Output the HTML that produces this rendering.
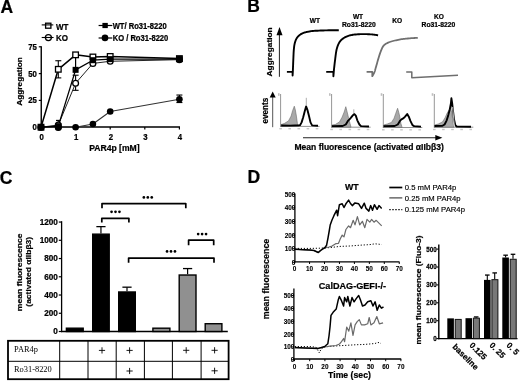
<!DOCTYPE html>
<html><head><meta charset="utf-8"><title>Figure</title>
<style>
html,body{margin:0;padding:0;background:#fff;width:520px;height:381px;overflow:hidden}
svg{display:block;filter:blur(0.35px)}
.sans{font-family:"Liberation Sans",sans-serif}
.serif{font-family:"Liberation Serif",serif}
</style></head>
<body>
<svg width="520" height="381" viewBox="0 0 520 381">
<rect x="0" y="0" width="520" height="381" fill="#fff"/>
<text class="sans" transform="translate(0.6 12.6)" font-size="17.5" font-weight="bold" text-anchor="start" fill="#000" stroke="#000" stroke-width="0.22">A</text>
<rect x="45.6" y="23.2" width="5.3" height="5" fill="#fff" stroke="#000" stroke-width="1.3"/>
<line x1="41.7" y1="24.9" x2="53.3" y2="24.9" stroke="#000" stroke-width="1.1"/>
<text class="sans" transform="translate(56 29.5) scale(1 1.050)" font-size="8" font-weight="bold" text-anchor="start" fill="#000" stroke="#000" stroke-width="0.22">WT</text>
<circle cx="48.4" cy="37.6" r="3" fill="#fff" stroke="#000" stroke-width="1.3"/>
<line x1="41.7" y1="37.5" x2="53.6" y2="37.5" stroke="#000" stroke-width="1.1"/>
<text class="sans" transform="translate(56 41) scale(1 1.050)" font-size="8" font-weight="bold" text-anchor="start" fill="#000" stroke="#000" stroke-width="0.22">KO</text>
<line x1="98.6" y1="25.5" x2="112.3" y2="25.5" stroke="#000" stroke-width="1.2"/>
<rect x="102.4" y="22.9" width="5.4" height="5.2" fill="#000" stroke="none" stroke-width="1"/>
<text class="sans" transform="translate(112.7 28.5) scale(1 1.120)" font-size="7.6" font-weight="bold" text-anchor="start" fill="#000" stroke="#000" stroke-width="0.22">WT/ Ro31-8220</text>
<line x1="98.6" y1="38" x2="112.3" y2="38" stroke="#000" stroke-width="1.2"/>
<circle cx="105" cy="37.9" r="3.3" fill="#000" stroke="none" stroke-width="1"/>
<text class="sans" transform="translate(112.7 40.5) scale(1 1.120)" font-size="7.6" font-weight="bold" text-anchor="start" fill="#000" stroke="#000" stroke-width="0.22">KO / Ro31-8220</text>
<line x1="41.25" y1="46.3" x2="41.25" y2="127.8" stroke="#000" stroke-width="1.4"/>
<line x1="38.8" y1="127.2" x2="41.25" y2="127.2" stroke="#000" stroke-width="1.2"/>
<text class="sans" transform="translate(36.9 130.15) scale(1 1.120)" font-size="7.8" font-weight="bold" text-anchor="end" fill="#000" stroke="#000" stroke-width="0.22">0</text>
<line x1="38.8" y1="100.4" x2="41.25" y2="100.4" stroke="#000" stroke-width="1.2"/>
<text class="sans" transform="translate(36.9 103.35) scale(1 1.120)" font-size="7.8" font-weight="bold" text-anchor="end" fill="#000" stroke="#000" stroke-width="0.22">25</text>
<line x1="38.8" y1="73.6" x2="41.25" y2="73.6" stroke="#000" stroke-width="1.2"/>
<text class="sans" transform="translate(36.9 76.55) scale(1 1.120)" font-size="7.8" font-weight="bold" text-anchor="end" fill="#000" stroke="#000" stroke-width="0.22">50</text>
<line x1="38.8" y1="46.8" x2="41.25" y2="46.8" stroke="#000" stroke-width="1.2"/>
<text class="sans" transform="translate(36.9 49.75) scale(1 1.120)" font-size="7.8" font-weight="bold" text-anchor="end" fill="#000" stroke="#000" stroke-width="0.22">75</text>
<line x1="40.6" y1="127" x2="180" y2="127" stroke="#000" stroke-width="1.4"/>
<line x1="41" y1="127" x2="41" y2="129.5" stroke="#000" stroke-width="1.2"/>
<text class="sans" transform="translate(41.6 139.6) scale(1 1.120)" font-size="7.8" font-weight="bold" text-anchor="middle" fill="#000" stroke="#000" stroke-width="0.22">0</text>
<line x1="75.6" y1="127" x2="75.6" y2="129.5" stroke="#000" stroke-width="1.2"/>
<text class="sans" transform="translate(76.2 139.6) scale(1 1.120)" font-size="7.8" font-weight="bold" text-anchor="middle" fill="#000" stroke="#000" stroke-width="0.22">1</text>
<line x1="110.2" y1="127" x2="110.2" y2="129.5" stroke="#000" stroke-width="1.2"/>
<text class="sans" transform="translate(110.8 139.6) scale(1 1.120)" font-size="7.8" font-weight="bold" text-anchor="middle" fill="#000" stroke="#000" stroke-width="0.22">2</text>
<line x1="144.8" y1="127" x2="144.8" y2="129.5" stroke="#000" stroke-width="1.2"/>
<text class="sans" transform="translate(145.4 139.6) scale(1 1.120)" font-size="7.8" font-weight="bold" text-anchor="middle" fill="#000" stroke="#000" stroke-width="0.22">3</text>
<line x1="179.4" y1="127" x2="179.4" y2="129.5" stroke="#000" stroke-width="1.2"/>
<text class="sans" transform="translate(180 139.6) scale(1 1.120)" font-size="7.8" font-weight="bold" text-anchor="middle" fill="#000" stroke="#000" stroke-width="0.22">4</text>
<text class="sans" transform="translate(114.4 150.9) scale(1 1.080)" font-size="8.6" font-weight="bold" text-anchor="middle" fill="#000" stroke="#000" stroke-width="0.22">PAR4p [mM]</text>
<text class="sans" transform="translate(21.6 81.4) rotate(-90) scale(1 0.900)" font-size="8.25" font-weight="bold" text-anchor="middle" fill="#000" stroke="#000" stroke-width="0.22">Aggregation</text>
<line x1="58.3" y1="77.89" x2="58.3" y2="60.74" stroke="#000" stroke-width="1.1"/>
<line x1="55.3" y1="60.74" x2="61.3" y2="60.74" stroke="#000" stroke-width="1.1"/>
<line x1="55.3" y1="77.89" x2="61.3" y2="77.89" stroke="#000" stroke-width="1.1"/>
<line x1="58.3" y1="125.06" x2="58.3" y2="120.45" stroke="#000" stroke-width="1.1"/>
<line x1="56" y1="120.45" x2="60.6" y2="120.45" stroke="#000" stroke-width="1.2"/>
<line x1="75.6" y1="90.32" x2="75.6" y2="75.21" stroke="#000" stroke-width="1.1"/>
<line x1="72.6" y1="75.21" x2="78.6" y2="75.21" stroke="#000" stroke-width="1.1"/>
<line x1="72.6" y1="90.32" x2="78.6" y2="90.32" stroke="#000" stroke-width="1.1"/>
<line x1="75.6" y1="69.85" x2="75.6" y2="56.45" stroke="#000" stroke-width="1.2"/>
<line x1="179.4" y1="102.54" x2="179.4" y2="95.04" stroke="#000" stroke-width="1.1"/>
<line x1="176.4" y1="95.04" x2="182.4" y2="95.04" stroke="#000" stroke-width="1.1"/>
<line x1="176.4" y1="102.54" x2="182.4" y2="102.54" stroke="#000" stroke-width="1.1"/>
<polyline points="41,127.2 58.3,127.2 75.6,127.2 92.9,123.98 110.2,111.55 179.4,99.33" fill="none" stroke="#333" stroke-width="1.1" stroke-linejoin="round"/>
<polyline points="41,127.2 58.3,125.06 75.6,83.25 92.9,63.42 110.2,61.27 179.4,59.66" fill="none" stroke="#222" stroke-width="1" stroke-linejoin="round"/>
<polyline points="41,127.2 58.3,126.13 75.6,69.85 92.9,60.2 110.2,59.13 179.4,59.13" fill="none" stroke="#000" stroke-width="1.3" stroke-linejoin="round"/>
<polyline points="41,127.2 58.3,69.31 75.6,54.84 92.9,56.98 110.2,56.45 179.4,58.59" fill="none" stroke="#000" stroke-width="1.5" stroke-linejoin="round"/>
<rect x="38.2" y="124.4" width="5.6" height="5.6" fill="#fff" stroke="#000" stroke-width="1.3"/>
<rect x="55.5" y="66.51" width="5.6" height="5.6" fill="#fff" stroke="#000" stroke-width="1.3"/>
<rect x="72.8" y="52.04" width="5.6" height="5.6" fill="#fff" stroke="#000" stroke-width="1.3"/>
<rect x="90.1" y="54.18" width="5.6" height="5.6" fill="#fff" stroke="#000" stroke-width="1.3"/>
<rect x="107.4" y="53.65" width="5.6" height="5.6" fill="#fff" stroke="#000" stroke-width="1.3"/>
<rect x="176.6" y="55.79" width="5.6" height="5.6" fill="#fff" stroke="#000" stroke-width="1.3"/>
<circle cx="41" cy="127.2" r="2.9" fill="#fff" stroke="#000" stroke-width="1.3"/>
<circle cx="58.3" cy="125.06" r="2.9" fill="#fff" stroke="#000" stroke-width="1.3"/>
<circle cx="75.6" cy="83.25" r="2.9" fill="#fff" stroke="#000" stroke-width="1.3"/>
<circle cx="92.9" cy="63.42" r="2.9" fill="#fff" stroke="#000" stroke-width="1.3"/>
<circle cx="110.2" cy="61.27" r="2.9" fill="#fff" stroke="#000" stroke-width="1.3"/>
<circle cx="179.4" cy="59.66" r="2.9" fill="#fff" stroke="#000" stroke-width="1.3"/>
<circle cx="41" cy="127.2" r="3.3" fill="#000" stroke="none" stroke-width="1"/>
<circle cx="58.3" cy="127.2" r="3.3" fill="#000" stroke="none" stroke-width="1"/>
<circle cx="75.6" cy="127.2" r="3.3" fill="#000" stroke="none" stroke-width="1"/>
<circle cx="92.9" cy="123.98" r="3.3" fill="#000" stroke="none" stroke-width="1"/>
<circle cx="110.2" cy="111.55" r="3.3" fill="#000" stroke="none" stroke-width="1"/>
<circle cx="179.4" cy="99.33" r="3.3" fill="#000" stroke="none" stroke-width="1"/>
<rect x="38" y="124.2" width="6" height="6" fill="#000" stroke="none" stroke-width="1"/>
<rect x="55.3" y="123.13" width="6" height="6" fill="#000" stroke="none" stroke-width="1"/>
<rect x="72.6" y="66.85" width="6" height="6" fill="#000" stroke="none" stroke-width="1"/>
<rect x="89.9" y="57.2" width="6" height="6" fill="#000" stroke="none" stroke-width="1"/>
<rect x="107.2" y="56.13" width="6" height="6" fill="#000" stroke="none" stroke-width="1"/>
<rect x="176.4" y="56.13" width="6" height="6" fill="#000" stroke="none" stroke-width="1"/>
<circle cx="58.3" cy="127.52" r="3.5" fill="#000" stroke="none" stroke-width="1"/>
<text class="sans" transform="translate(247.2 12.4)" font-size="17.5" font-weight="bold" text-anchor="start" fill="#000" stroke="#000" stroke-width="0.22">B</text>
<text class="sans" transform="translate(271.7 51.9) rotate(-90) scale(1 0.880)" font-size="8.35" font-weight="bold" text-anchor="middle" fill="#000" stroke="#000" stroke-width="0.22">Aggregation</text>
<line x1="279.4" y1="34" x2="279.4" y2="76.8" stroke="#222" stroke-width="1"/>
<polygon points="276.5,35.2 282.5,35.2 279.5,27.1" fill="#000" stroke="none" stroke-width="1"/>
<text class="sans" transform="translate(314.9 23) scale(1 1.120)" font-size="6.6" font-weight="bold" text-anchor="middle" fill="#000" stroke="#000" stroke-width="0.22">WT</text>
<text class="sans" transform="translate(358 19.4) scale(1 1.120)" font-size="6.6" font-weight="bold" text-anchor="middle" fill="#000" stroke="#000" stroke-width="0.22">WT</text>
<text class="sans" transform="translate(358.8 27.4) scale(1 1.100)" font-size="6.75" font-weight="bold" text-anchor="middle" fill="#000" stroke="#000" stroke-width="0.22">Ro31-8220</text>
<text class="sans" transform="translate(397.2 23.4) scale(1 1.120)" font-size="6.6" font-weight="bold" text-anchor="middle" fill="#000" stroke="#000" stroke-width="0.22">KO</text>
<text class="sans" transform="translate(438.9 19.4) scale(1 1.120)" font-size="6.6" font-weight="bold" text-anchor="middle" fill="#000" stroke="#000" stroke-width="0.22">KO</text>
<text class="sans" transform="translate(438.4 27.4) scale(1 1.100)" font-size="6.75" font-weight="bold" text-anchor="middle" fill="#000" stroke="#000" stroke-width="0.22">Ro31-8220</text>
<polyline points="286.9,71.9 292.6,71.9 292.6,75.5 292.62,75.11 292.65,74.62 292.69,74.04 292.73,73.38 292.77,72.63 292.81,71.82 292.86,70.94 292.9,70 292.94,68.97 292.99,67.82 293.04,66.58 293.09,65.28 293.14,63.95 293.19,62.61 293.24,61.28 293.3,60 293.35,58.73 293.41,57.42 293.46,56.1 293.52,54.78 293.58,53.49 293.64,52.25 293.72,51.08 293.8,50 293.89,49.01 293.98,48.09 294.07,47.24 294.17,46.43 294.28,45.67 294.4,44.93 294.54,44.21 294.7,43.5 294.88,42.8 295.07,42.12 295.27,41.47 295.49,40.84 295.72,40.24 295.97,39.67 296.23,39.12 296.5,38.6 296.79,38.11 297.09,37.66 297.4,37.24 297.72,36.84 298.07,36.46 298.43,36.1 298.8,35.75 299.2,35.4 299.61,35.06 300.04,34.74 300.49,34.43 300.96,34.14 301.44,33.86 301.94,33.59 302.46,33.34 303,33.1 303.56,32.88 304.14,32.67 304.74,32.48 305.36,32.31 306,32.14 306.65,31.99 307.32,31.84 308,31.7 308.67,31.57 309.31,31.45 309.96,31.34 310.62,31.24 311.34,31.15 312.12,31.06 313,30.98 314,30.9 315.12,30.82 316.33,30.75 317.64,30.68 319.01,30.61 320.45,30.55 321.94,30.5 323.46,30.45 325,30.4 326.69,30.36 328.58,30.32 330.58,30.29 332.59,30.27 334.51,30.25 336.25,30.23 337.72,30.21 338.8,30.2" fill="none" stroke="#000" stroke-width="1.9" stroke-linejoin="round"/>
<polyline points="326.2,71.9 333.4,71.9 333.4,76.2 333.45,75.61 333.51,74.83 333.59,73.91 333.68,72.88 333.77,71.77 333.87,70.61 333.98,69.45 334.1,68.3 334.23,67.12 334.37,65.86 334.52,64.55 334.68,63.21 334.84,61.87 335,60.57 335.16,59.34 335.3,58.2 335.43,57.15 335.55,56.15 335.67,55.2 335.79,54.29 335.9,53.42 336.03,52.58 336.16,51.78 336.3,51 336.45,50.26 336.6,49.56 336.76,48.9 336.93,48.27 337.1,47.66 337.28,47.07 337.48,46.48 337.7,45.9 337.93,45.31 338.18,44.74 338.44,44.17 338.71,43.61 338.99,43.07 339.28,42.56 339.59,42.07 339.9,41.6 340.22,41.17 340.54,40.76 340.87,40.39 341.22,40.03 341.58,39.69 341.96,39.36 342.37,39.03 342.8,38.7 343.26,38.37 343.74,38.04 344.24,37.72 344.77,37.41 345.32,37.11 345.89,36.82 346.48,36.55 347.1,36.3 347.73,36.06 348.38,35.84 349.04,35.64 349.73,35.44 350.45,35.26 351.22,35.1 352.03,34.94 352.9,34.8 353.83,34.67 354.82,34.55 355.85,34.43 356.93,34.34 358.04,34.25 359.18,34.19 360.33,34.13 361.5,34.1 362.72,34.09 364,34.09 365.34,34.11 366.68,34.15 368.01,34.2 369.29,34.26 370.5,34.33 371.6,34.4 372.63,34.49 373.63,34.6 374.59,34.73 375.48,34.87 376.3,35 377.02,35.12 377.62,35.23 378.1,35.3" fill="none" stroke="#000" stroke-width="1.9" stroke-linejoin="round"/>
<polyline points="366.6,71.9 372.3,71.9 372.3,76.2 372.47,75.89 372.71,75.48 372.99,75 373.29,74.46 373.61,73.88 373.93,73.26 374.23,72.63 374.5,72 374.72,71.39 374.92,70.8 375.1,70.2 375.27,69.56 375.46,68.87 375.67,68.1 375.91,67.21 376.2,66.2 376.54,65 376.93,63.63 377.35,62.12 377.79,60.54 378.25,58.95 378.71,57.39 379.16,55.92 379.6,54.6 380.02,53.39 380.44,52.22 380.85,51.1 381.26,50.03 381.68,49.03 382.11,48.11 382.55,47.26 383,46.5 383.46,45.85 383.91,45.31 384.37,44.86 384.84,44.48 385.33,44.15 385.85,43.84 386.4,43.53 387,43.2 387.64,42.87 388.3,42.56 388.99,42.28 389.72,42.01 390.48,41.75 391.28,41.5 392.12,41.25 393,41 393.94,40.75 394.95,40.5 396,40.26 397.09,40.02 398.2,39.79 399.32,39.58 400.42,39.38 401.5,39.2 402.57,39.04 403.64,38.9 404.72,38.78 405.79,38.67 406.86,38.57 407.92,38.48 408.97,38.39 410,38.3 411.06,38.21 412.18,38.14 413.32,38.06 414.43,37.99 415.48,37.93 416.41,37.88 417.2,37.84 417.8,37.8" fill="none" stroke="#707070" stroke-width="1.8" stroke-linejoin="round"/>
<polyline points="406.2,71.9 411.8,71.9 411.8,77.7 458,75.3" fill="none" stroke="#6e6e6e" stroke-width="1.5" stroke-linejoin="round"/>
<line x1="280.6" y1="94" x2="280.6" y2="126.8" stroke="#8a8a8a" stroke-width="0.9"/>
<line x1="280.2" y1="126.4" x2="319.6" y2="126.4" stroke="#777" stroke-width="0.8"/>
<rect x="279.3" y="128" width="2.6" height="1.4" fill="#c8c8c8"/>
<rect x="288.4" y="128" width="2.6" height="1.4" fill="#c8c8c8"/>
<rect x="297.5" y="128" width="2.6" height="1.4" fill="#c8c8c8"/>
<rect x="306.6" y="128" width="2.6" height="1.4" fill="#c8c8c8"/>
<rect x="315.7" y="128" width="2.6" height="1.4" fill="#c8c8c8"/>
<rect x="278" y="93.2" width="1.6" height="2.6" fill="#c0c0c0"/>
<line x1="331.6" y1="94" x2="331.6" y2="127.6" stroke="#8a8a8a" stroke-width="0.9"/>
<line x1="331.2" y1="127.2" x2="370.6" y2="127.2" stroke="#777" stroke-width="0.8"/>
<rect x="330.3" y="128.8" width="2.6" height="1.4" fill="#c8c8c8"/>
<rect x="339.4" y="128.8" width="2.6" height="1.4" fill="#c8c8c8"/>
<rect x="348.5" y="128.8" width="2.6" height="1.4" fill="#c8c8c8"/>
<rect x="357.6" y="128.8" width="2.6" height="1.4" fill="#c8c8c8"/>
<rect x="366.7" y="128.8" width="2.6" height="1.4" fill="#c8c8c8"/>
<rect x="329" y="93.2" width="1.6" height="2.6" fill="#c0c0c0"/>
<line x1="383.3" y1="94" x2="383.3" y2="127.9" stroke="#8a8a8a" stroke-width="0.9"/>
<line x1="382.9" y1="127.5" x2="422.3" y2="127.5" stroke="#777" stroke-width="0.8"/>
<rect x="382" y="129.1" width="2.6" height="1.4" fill="#c8c8c8"/>
<rect x="391.1" y="129.1" width="2.6" height="1.4" fill="#c8c8c8"/>
<rect x="400.2" y="129.1" width="2.6" height="1.4" fill="#c8c8c8"/>
<rect x="409.3" y="129.1" width="2.6" height="1.4" fill="#c8c8c8"/>
<rect x="418.4" y="129.1" width="2.6" height="1.4" fill="#c8c8c8"/>
<rect x="380.7" y="93.2" width="1.6" height="2.6" fill="#c0c0c0"/>
<line x1="434.3" y1="94" x2="434.3" y2="127.6" stroke="#8a8a8a" stroke-width="0.9"/>
<line x1="433.9" y1="127.2" x2="473.3" y2="127.2" stroke="#777" stroke-width="0.8"/>
<rect x="433" y="128.8" width="2.6" height="1.4" fill="#c8c8c8"/>
<rect x="442.1" y="128.8" width="2.6" height="1.4" fill="#c8c8c8"/>
<rect x="451.2" y="128.8" width="2.6" height="1.4" fill="#c8c8c8"/>
<rect x="460.3" y="128.8" width="2.6" height="1.4" fill="#c8c8c8"/>
<rect x="469.4" y="128.8" width="2.6" height="1.4" fill="#c8c8c8"/>
<rect x="431.7" y="93.2" width="1.6" height="2.6" fill="#c0c0c0"/>
<polygon points="281,126.4 281,124.6 284.3,123.5 288.5,120.9 291.1,116.1 292.7,110.4 294.3,106.2 295.3,109.8 296.4,116.1 297.4,123.5 298.5,126 298.5,126.4" fill="#a9a9a9" stroke="#6a6a6a" stroke-width="0.6"/>
<polyline points="281.2,125.5 290,125.6 300,125.3 301.6,122.4 303.2,117.2 304.8,110.9 306.1,106.4 307.4,109.8 309,116.1 310.5,122.4 312.1,125.4 318,125.8" fill="none" stroke="#000" stroke-width="1.9" stroke-linejoin="round"/>
<line x1="306.3" y1="97.8" x2="306.3" y2="106" stroke="#9a9a9a" stroke-width="0.8"/>
<polygon points="332,127.2 332,125 335.3,124.5 339.5,121.9 342.1,117.2 344.2,112 345.8,106.7 347.4,113 348.4,117.2 350,123.5 351,127 351,127.2" fill="#a9a9a9" stroke="#6a6a6a" stroke-width="0.6"/>
<polyline points="332,126.1 342.6,126 345.8,124.5 347.9,120.9 349.5,119.3 351,117.7 352.6,115.6 354.2,114 355.8,115.6 357.3,120.3 359.4,124.5 361,126.1 369,126.5" fill="none" stroke="#000" stroke-width="1.9" stroke-linejoin="round"/>
<line x1="353.8" y1="109.3" x2="353.8" y2="114" stroke="#9a9a9a" stroke-width="0.8"/>
<polygon points="383.6,127.5 383.6,125 387.3,124 391.5,122.4 394.1,118.2 395.7,113.5 397.6,108.3 398.8,112.5 399.9,117.2 400.9,123.5 402,127 402,127.5" fill="#a9a9a9" stroke="#6a6a6a" stroke-width="0.6"/>
<polyline points="383.6,126.1 394.6,126 397.8,124.5 399.9,120.9 401.5,119.3 403.6,118.2 405.1,116.7 407.2,114 408.8,116.7 410.4,120.9 412.5,125.1 414.1,126.1 421,126.6" fill="none" stroke="#000" stroke-width="1.9" stroke-linejoin="round"/>
<polygon points="434.6,127.2 434.6,125 438.3,124 442.5,121.9 445.1,117.7 447.2,113 448.8,110.4 450.4,107.7 451.4,110.9 452.5,118.2 453.5,125.6 454,127 454,127.2" fill="#a9a9a9" stroke="#6a6a6a" stroke-width="0.6"/>
<polyline points="434.6,126 442.5,125.8 444.6,124.5 446.7,120.3 448.3,115.1 449.8,109.3 450.9,103.5 451.4,98.3 452.2,103.5 453,110.9 454,119.3 455.3,125.1 456.7,126.5 471,126.7" fill="none" stroke="#000" stroke-width="1.9" stroke-linejoin="round"/>
<line x1="452.6" y1="107" x2="454.4" y2="126.2" stroke="#fff" stroke-width="0.7"/>
<text class="sans" transform="translate(267.8 110.6) rotate(-90)" font-size="8.2" font-weight="bold" text-anchor="middle" fill="#000" stroke="#000" stroke-width="0.22">events</text>
<line x1="272.7" y1="97" x2="272.7" y2="127.2" stroke="#555" stroke-width="1"/>
<polygon points="269.7,97.6 275.7,97.6 272.7,91.4" fill="#000" stroke="none" stroke-width="1"/>
<line x1="303" y1="137.7" x2="436" y2="137.7" stroke="#222" stroke-width="1.1"/>
<polygon points="435.3,134.9 435.3,140.5 442.4,137.7" fill="#000" stroke="none" stroke-width="1"/>
<text class="sans" transform="translate(294.5 149.8) scale(1 1.080)" font-size="8.55" font-weight="bold" text-anchor="start" fill="#000" stroke="#000" stroke-width="0.22">Mean fluorescence (activated αIIbβ3)</text>
<text class="sans" transform="translate(-0.3 183.8)" font-size="17.5" font-weight="bold" text-anchor="start" fill="#000" stroke="#000" stroke-width="0.22">C</text>
<line x1="61.6" y1="221.2" x2="61.6" y2="332.1" stroke="#000" stroke-width="1.3"/>
<line x1="58.8" y1="331.5" x2="61.6" y2="331.5" stroke="#000" stroke-width="1.2"/>
<text class="sans" transform="translate(57.9 334.35)" font-size="8.2" font-weight="bold" text-anchor="end" fill="#000" stroke="#000" stroke-width="0.22">0</text>
<line x1="58.8" y1="313.26" x2="61.6" y2="313.26" stroke="#000" stroke-width="1.2"/>
<text class="sans" transform="translate(57.9 316.11)" font-size="8.2" font-weight="bold" text-anchor="end" fill="#000" stroke="#000" stroke-width="0.22">200</text>
<line x1="58.8" y1="295.02" x2="61.6" y2="295.02" stroke="#000" stroke-width="1.2"/>
<text class="sans" transform="translate(57.9 297.87)" font-size="8.2" font-weight="bold" text-anchor="end" fill="#000" stroke="#000" stroke-width="0.22">400</text>
<line x1="58.8" y1="276.78" x2="61.6" y2="276.78" stroke="#000" stroke-width="1.2"/>
<text class="sans" transform="translate(57.9 279.63)" font-size="8.2" font-weight="bold" text-anchor="end" fill="#000" stroke="#000" stroke-width="0.22">600</text>
<line x1="58.8" y1="258.54" x2="61.6" y2="258.54" stroke="#000" stroke-width="1.2"/>
<text class="sans" transform="translate(57.9 261.39)" font-size="8.2" font-weight="bold" text-anchor="end" fill="#000" stroke="#000" stroke-width="0.22">800</text>
<line x1="58.8" y1="240.3" x2="61.6" y2="240.3" stroke="#000" stroke-width="1.2"/>
<text class="sans" transform="translate(57.9 243.15)" font-size="8.2" font-weight="bold" text-anchor="end" fill="#000" stroke="#000" stroke-width="0.22">1000</text>
<line x1="58.8" y1="222.06" x2="61.6" y2="222.06" stroke="#000" stroke-width="1.2"/>
<text class="sans" transform="translate(57.9 224.91)" font-size="8.2" font-weight="bold" text-anchor="end" fill="#000" stroke="#000" stroke-width="0.22">1200</text>
<line x1="61" y1="331.5" x2="227.8" y2="331.5" stroke="#000" stroke-width="1.3"/>
<text class="sans" transform="translate(21.9 272.3) rotate(-90) scale(1 0.890)" font-size="8.6" font-weight="bold" text-anchor="middle" fill="#000" stroke="#000" stroke-width="0.22">mean fluorescence</text>
<text class="sans" transform="translate(31.2 271.8) rotate(-90) scale(1 0.890)" font-size="8.5" font-weight="bold" text-anchor="middle" fill="#000" stroke="#000" stroke-width="0.22">(activated αIIbβ3)</text>
<rect x="66.4" y="328.19" width="16.8" height="3.31" fill="#000" stroke="#000" stroke-width="1.4"/>
<line x1="100.95" y1="233.46" x2="100.95" y2="226.62" stroke="#000" stroke-width="1.2"/>
<line x1="96.35" y1="226.62" x2="105.55" y2="226.62" stroke="#000" stroke-width="1.3"/>
<rect x="92.7" y="234.16" width="16.5" height="97.34" fill="#000" stroke="#000" stroke-width="1.4"/>
<line x1="127" y1="291.28" x2="127" y2="287.18" stroke="#000" stroke-width="1.2"/>
<line x1="122.4" y1="287.18" x2="131.6" y2="287.18" stroke="#000" stroke-width="1.3"/>
<rect x="118.7" y="291.98" width="16.6" height="39.52" fill="#000" stroke="#000" stroke-width="1.4"/>
<rect x="152.9" y="328.19" width="17" height="3.31" fill="#909090" stroke="#000" stroke-width="1.4"/>
<line x1="187.6" y1="274.32" x2="187.6" y2="268.57" stroke="#000" stroke-width="1.2"/>
<line x1="183" y1="268.57" x2="192.2" y2="268.57" stroke="#000" stroke-width="1.3"/>
<rect x="179.2" y="275.02" width="16.8" height="56.48" fill="#909090" stroke="#000" stroke-width="1.4"/>
<rect x="205.2" y="323.72" width="16.7" height="7.78" fill="#909090" stroke="#000" stroke-width="1.4"/>
<polyline points="101.8,222.6 101.8,218.3 128.9,218.3 128.9,222.6" fill="none" stroke="#000" stroke-width="1.7" stroke-linejoin="round"/>
<circle cx="111.55" cy="211.8" r="1.35" fill="#000" stroke="none" stroke-width="1"/>
<circle cx="115.5" cy="211.8" r="1.35" fill="#000" stroke="none" stroke-width="1"/>
<circle cx="119.45" cy="211.8" r="1.35" fill="#000" stroke="none" stroke-width="1"/>
<polyline points="102,208.3 102,203.6 185.8,203.6 185.8,208.3" fill="none" stroke="#000" stroke-width="1.7" stroke-linejoin="round"/>
<circle cx="143.85" cy="197.4" r="1.35" fill="#000" stroke="none" stroke-width="1"/>
<circle cx="147.8" cy="197.4" r="1.35" fill="#000" stroke="none" stroke-width="1"/>
<circle cx="151.75" cy="197.4" r="1.35" fill="#000" stroke="none" stroke-width="1"/>
<polyline points="188.6,245.3 188.6,240.2 213.7,240.2 213.7,245.3" fill="none" stroke="#000" stroke-width="1.7" stroke-linejoin="round"/>
<circle cx="198.15" cy="234.1" r="1.35" fill="#000" stroke="none" stroke-width="1"/>
<circle cx="202.1" cy="234.1" r="1.35" fill="#000" stroke="none" stroke-width="1"/>
<circle cx="206.05" cy="234.1" r="1.35" fill="#000" stroke="none" stroke-width="1"/>
<polyline points="128.6,262.8 128.6,258.1 214,258.1 214,262.8" fill="none" stroke="#000" stroke-width="1.7" stroke-linejoin="round"/>
<circle cx="167.05" cy="251.4" r="1.35" fill="#000" stroke="none" stroke-width="1"/>
<circle cx="171" cy="251.4" r="1.35" fill="#000" stroke="none" stroke-width="1"/>
<circle cx="174.95" cy="251.4" r="1.35" fill="#000" stroke="none" stroke-width="1"/>
<rect x="8" y="340.8" width="220.6" height="38.4" fill="none" stroke="#000" stroke-width="1.8"/>
<line x1="8" y1="361.3" x2="228.6" y2="361.3" stroke="#000" stroke-width="1"/>
<line x1="59.7" y1="340.4" x2="59.7" y2="379.2" stroke="#000" stroke-width="1"/>
<line x1="88" y1="340.4" x2="88" y2="379.2" stroke="#000" stroke-width="1"/>
<line x1="116.2" y1="340.4" x2="116.2" y2="379.2" stroke="#000" stroke-width="1"/>
<line x1="144.4" y1="340.4" x2="144.4" y2="379.2" stroke="#000" stroke-width="1"/>
<line x1="172.4" y1="340.4" x2="172.4" y2="379.2" stroke="#000" stroke-width="1"/>
<line x1="201.1" y1="340.4" x2="201.1" y2="379.2" stroke="#000" stroke-width="1"/>
<text class="serif" transform="translate(14 351.6)" font-size="8.4" text-anchor="start" fill="#000">PAR4p</text>
<text class="serif" transform="translate(14 372)" font-size="8.4" text-anchor="start" fill="#000">Ro31-8220</text>
<line x1="98.9" y1="350.4" x2="105.1" y2="350.4" stroke="#000" stroke-width="0.9"/>
<line x1="102" y1="347.3" x2="102" y2="353.5" stroke="#000" stroke-width="0.9"/>
<line x1="126.5" y1="350.4" x2="132.7" y2="350.4" stroke="#000" stroke-width="0.9"/>
<line x1="129.6" y1="347.3" x2="129.6" y2="353.5" stroke="#000" stroke-width="0.9"/>
<line x1="183.1" y1="350.3" x2="189.3" y2="350.3" stroke="#000" stroke-width="0.9"/>
<line x1="186.2" y1="347.2" x2="186.2" y2="353.4" stroke="#000" stroke-width="0.9"/>
<line x1="211.5" y1="350.3" x2="217.7" y2="350.3" stroke="#000" stroke-width="0.9"/>
<line x1="214.6" y1="347.2" x2="214.6" y2="353.4" stroke="#000" stroke-width="0.9"/>
<line x1="126.5" y1="371" x2="132.7" y2="371" stroke="#000" stroke-width="0.9"/>
<line x1="129.6" y1="367.9" x2="129.6" y2="374.1" stroke="#000" stroke-width="0.9"/>
<line x1="211.5" y1="370.8" x2="217.7" y2="370.8" stroke="#000" stroke-width="0.9"/>
<line x1="214.6" y1="367.7" x2="214.6" y2="373.9" stroke="#000" stroke-width="0.9"/>
<text class="sans" transform="translate(247.6 183.4)" font-size="17.5" font-weight="bold" text-anchor="start" fill="#000" stroke="#000" stroke-width="0.22">D</text>
<line x1="294.9" y1="193.4" x2="294.9" y2="262.4" stroke="#000" stroke-width="1.3"/>
<line x1="292.9" y1="262.3" x2="294.9" y2="262.3" stroke="#000" stroke-width="1"/>
<text class="sans" transform="translate(295.3 264.75) scale(1 1.080)" font-size="6.4" font-weight="bold" text-anchor="end" fill="#000" stroke="#000" stroke-width="0.1">0</text>
<line x1="292.9" y1="248.7" x2="294.9" y2="248.7" stroke="#000" stroke-width="1"/>
<text class="sans" transform="translate(295.3 251.15) scale(1 1.080)" font-size="6.4" font-weight="bold" text-anchor="end" fill="#000" stroke="#000" stroke-width="0.1">100</text>
<line x1="292.9" y1="235.1" x2="294.9" y2="235.1" stroke="#000" stroke-width="1"/>
<text class="sans" transform="translate(295.3 237.55) scale(1 1.080)" font-size="6.4" font-weight="bold" text-anchor="end" fill="#000" stroke="#000" stroke-width="0.1">200</text>
<line x1="292.9" y1="221.5" x2="294.9" y2="221.5" stroke="#000" stroke-width="1"/>
<text class="sans" transform="translate(295.3 223.95) scale(1 1.080)" font-size="6.4" font-weight="bold" text-anchor="end" fill="#000" stroke="#000" stroke-width="0.1">300</text>
<line x1="292.9" y1="207.9" x2="294.9" y2="207.9" stroke="#000" stroke-width="1"/>
<text class="sans" transform="translate(295.3 210.35) scale(1 1.080)" font-size="6.4" font-weight="bold" text-anchor="end" fill="#000" stroke="#000" stroke-width="0.1">400</text>
<line x1="292.9" y1="194.3" x2="294.9" y2="194.3" stroke="#000" stroke-width="1"/>
<text class="sans" transform="translate(295.3 196.75) scale(1 1.080)" font-size="6.4" font-weight="bold" text-anchor="end" fill="#000" stroke="#000" stroke-width="0.1">500</text>
<line x1="294.3" y1="261.8" x2="399.4" y2="261.8" stroke="#000" stroke-width="1.3"/>
<line x1="294.6" y1="261.8" x2="294.6" y2="264" stroke="#000" stroke-width="1"/>
<text class="sans" transform="translate(294.6 271.4) scale(1 1.100)" font-size="6.4" font-weight="bold" text-anchor="middle" fill="#000" stroke="#000" stroke-width="0.1">0</text>
<line x1="309.55" y1="261.8" x2="309.55" y2="264" stroke="#000" stroke-width="1"/>
<text class="sans" transform="translate(309.55 271.4) scale(1 1.100)" font-size="6.4" font-weight="bold" text-anchor="middle" fill="#000" stroke="#000" stroke-width="0.1">10</text>
<line x1="324.5" y1="261.8" x2="324.5" y2="264" stroke="#000" stroke-width="1"/>
<text class="sans" transform="translate(324.5 271.4) scale(1 1.100)" font-size="6.4" font-weight="bold" text-anchor="middle" fill="#000" stroke="#000" stroke-width="0.1">20</text>
<line x1="339.45" y1="261.8" x2="339.45" y2="264" stroke="#000" stroke-width="1"/>
<text class="sans" transform="translate(339.45 271.4) scale(1 1.100)" font-size="6.4" font-weight="bold" text-anchor="middle" fill="#000" stroke="#000" stroke-width="0.1">30</text>
<line x1="354.4" y1="261.8" x2="354.4" y2="264" stroke="#000" stroke-width="1"/>
<text class="sans" transform="translate(354.4 271.4) scale(1 1.100)" font-size="6.4" font-weight="bold" text-anchor="middle" fill="#000" stroke="#000" stroke-width="0.1">40</text>
<line x1="369.35" y1="261.8" x2="369.35" y2="264" stroke="#000" stroke-width="1"/>
<text class="sans" transform="translate(369.35 271.4) scale(1 1.100)" font-size="6.4" font-weight="bold" text-anchor="middle" fill="#000" stroke="#000" stroke-width="0.1">50</text>
<line x1="384.3" y1="261.8" x2="384.3" y2="264" stroke="#000" stroke-width="1"/>
<text class="sans" transform="translate(384.3 271.4) scale(1 1.100)" font-size="6.4" font-weight="bold" text-anchor="middle" fill="#000" stroke="#000" stroke-width="0.1">60</text>
<line x1="399.25" y1="261.8" x2="399.25" y2="264" stroke="#000" stroke-width="1"/>
<text class="sans" transform="translate(399.25 271.4) scale(1 1.100)" font-size="6.4" font-weight="bold" text-anchor="middle" fill="#000" stroke="#000" stroke-width="0.1">70</text>
<polyline points="294.8,248.4 310,248.4 320,248.2 330,247.6 340,246.4 350,246 360,245.2 370,244.6 375,243.8 381.7,244.5" fill="none" stroke="#000" stroke-width="1" stroke-linejoin="round" stroke-dasharray="1.2,1.8"/>
<polyline points="294.8,249.2 305,249.8 314,250.5 318.3,252.5 322.9,248.8 326.6,247.5 329,247 332,246.1 335.7,243.7 338.5,243.3 340.3,238.7 342.2,235.1 344,236.9 345.9,229.5 348.6,225.9 350.5,227.7 353.2,220.3 355,224.9 357.4,216.7 359.7,224.9 362.4,221.3 364.8,227.7 367,219.4 369.8,222.2 371.6,219.4 374,222.2 376.2,220.3 381.7,225.9" fill="none" stroke="#6a6a6a" stroke-width="1.2" stroke-linejoin="round"/>
<polyline points="294.8,249.2 300,249.6 305,249.8 310,250 314,250.5 318.3,252.5 320.5,250.5 322.9,248.8 325,247.5 326.6,245.2 328,238 329.3,230.5 330.2,225 332,220 333.9,215.7 336.7,210.2 337.6,215.7 339.4,204.7 342.2,203.8 344,207.5 345.9,203.8 348.6,200.1 350.5,203.5 352.3,205.6 355,202.9 358.7,203.8 361.5,208.4 364.3,203.2 366.1,208.4 368.9,211.1 370.7,205.6 372.5,210.2 374.4,204.7 377.1,209.3 379,205.6 381.7,208.4" fill="none" stroke="#000" stroke-width="1.5" stroke-linejoin="round"/>
<text class="sans" transform="translate(351.9 189.9)" font-size="8.8" font-weight="bold" text-anchor="middle" fill="#000" stroke="#000" stroke-width="0.22">WT</text>
<line x1="293.9" y1="288.4" x2="293.9" y2="359.6" stroke="#000" stroke-width="1.3"/>
<line x1="291.9" y1="359.8" x2="293.9" y2="359.8" stroke="#000" stroke-width="1"/>
<text class="sans" transform="translate(294.3 362.25) scale(1 1.080)" font-size="6.4" font-weight="bold" text-anchor="end" fill="#000" stroke="#000" stroke-width="0.1">0</text>
<line x1="291.9" y1="346.95" x2="293.9" y2="346.95" stroke="#000" stroke-width="1"/>
<text class="sans" transform="translate(294.3 349.4) scale(1 1.080)" font-size="6.4" font-weight="bold" text-anchor="end" fill="#000" stroke="#000" stroke-width="0.1">100</text>
<line x1="291.9" y1="334.1" x2="293.9" y2="334.1" stroke="#000" stroke-width="1"/>
<text class="sans" transform="translate(294.3 336.55) scale(1 1.080)" font-size="6.4" font-weight="bold" text-anchor="end" fill="#000" stroke="#000" stroke-width="0.1">200</text>
<line x1="291.9" y1="321.25" x2="293.9" y2="321.25" stroke="#000" stroke-width="1"/>
<text class="sans" transform="translate(294.3 323.7) scale(1 1.080)" font-size="6.4" font-weight="bold" text-anchor="end" fill="#000" stroke="#000" stroke-width="0.1">300</text>
<line x1="291.9" y1="308.4" x2="293.9" y2="308.4" stroke="#000" stroke-width="1"/>
<text class="sans" transform="translate(294.3 310.85) scale(1 1.080)" font-size="6.4" font-weight="bold" text-anchor="end" fill="#000" stroke="#000" stroke-width="0.1">400</text>
<line x1="291.9" y1="295.55" x2="293.9" y2="295.55" stroke="#000" stroke-width="1"/>
<text class="sans" transform="translate(294.3 298) scale(1 1.080)" font-size="6.4" font-weight="bold" text-anchor="end" fill="#000" stroke="#000" stroke-width="0.1">500</text>
<line x1="293.3" y1="359" x2="401.2" y2="359" stroke="#000" stroke-width="1.3"/>
<line x1="294.5" y1="359" x2="294.5" y2="361.2" stroke="#000" stroke-width="1"/>
<text class="sans" transform="translate(294.5 368.6) scale(1 1.100)" font-size="6.4" font-weight="bold" text-anchor="middle" fill="#000" stroke="#000" stroke-width="0.1">0</text>
<line x1="309.7" y1="359" x2="309.7" y2="361.2" stroke="#000" stroke-width="1"/>
<text class="sans" transform="translate(309.7 368.6) scale(1 1.100)" font-size="6.4" font-weight="bold" text-anchor="middle" fill="#000" stroke="#000" stroke-width="0.1">10</text>
<line x1="324.9" y1="359" x2="324.9" y2="361.2" stroke="#000" stroke-width="1"/>
<text class="sans" transform="translate(324.9 368.6) scale(1 1.100)" font-size="6.4" font-weight="bold" text-anchor="middle" fill="#000" stroke="#000" stroke-width="0.1">20</text>
<line x1="340.1" y1="359" x2="340.1" y2="361.2" stroke="#000" stroke-width="1"/>
<text class="sans" transform="translate(340.1 368.6) scale(1 1.100)" font-size="6.4" font-weight="bold" text-anchor="middle" fill="#000" stroke="#000" stroke-width="0.1">30</text>
<line x1="355.3" y1="359" x2="355.3" y2="361.2" stroke="#000" stroke-width="1"/>
<text class="sans" transform="translate(355.3 368.6) scale(1 1.100)" font-size="6.4" font-weight="bold" text-anchor="middle" fill="#000" stroke="#000" stroke-width="0.1">40</text>
<line x1="370.5" y1="359" x2="370.5" y2="361.2" stroke="#000" stroke-width="1"/>
<text class="sans" transform="translate(370.5 368.6) scale(1 1.100)" font-size="6.4" font-weight="bold" text-anchor="middle" fill="#000" stroke="#000" stroke-width="0.1">50</text>
<line x1="385.7" y1="359" x2="385.7" y2="361.2" stroke="#000" stroke-width="1"/>
<text class="sans" transform="translate(385.7 368.6) scale(1 1.100)" font-size="6.4" font-weight="bold" text-anchor="middle" fill="#000" stroke="#000" stroke-width="0.1">60</text>
<line x1="400.9" y1="359" x2="400.9" y2="361.2" stroke="#000" stroke-width="1"/>
<text class="sans" transform="translate(400.9 368.6) scale(1 1.100)" font-size="6.4" font-weight="bold" text-anchor="middle" fill="#000" stroke="#000" stroke-width="0.1">70</text>
<polyline points="294.8,346.6 310,346.6 316,347.2 319.4,353 321,349 325,346.8 335,346 345,345.4 355,344.8 365,344.4 375,343.5 378,342.4 381,343.5" fill="none" stroke="#000" stroke-width="1" stroke-linejoin="round" stroke-dasharray="1.2,1.8"/>
<polyline points="294.8,347.6 305,348 318.4,348.4 324.7,347 330,346.2 336,345.5 339.5,344 341.5,341.7 343.6,338.5 344.6,341.7 346.7,327 348.8,331.2 350.9,322.8 353,335.4 355.1,324.9 357.2,321.7 359.3,319.6 361.4,324.9 364.6,324.9 367.7,323.8 369.2,317.5 370.9,324.9 374,322.8 376.8,316.5 379.3,323.8 383.1,322.8" fill="none" stroke="#6a6a6a" stroke-width="1.2" stroke-linejoin="round"/>
<polyline points="294.8,347.6 305,348 312,348.2 318.4,348.4 324.7,346.5 327.8,343.8 329,336 330,327 331,315.4 333.1,312.3 336.2,309.1 338.3,299.7 339.4,296.5 341.5,300.7 343.6,306 344.6,297.6 346.7,301.8 347.8,296.5 349.9,306 352,297.6 354.1,301.8 356.2,298.6 358.7,295.5 360.4,299.7 362.5,306 365,305 367.7,301.8 370.9,300.7 373,306 375.1,301.8 377.2,310.2 379.3,305 381.4,308.1 383.5,307" fill="none" stroke="#000" stroke-width="1.5" stroke-linejoin="round"/>
<text class="sans" transform="translate(352.4 288.6)" font-size="9.1" font-weight="bold" text-anchor="middle" fill="#000" stroke="#000" stroke-width="0.22">CalDAG-GEFI-/-</text>
<text class="sans" transform="translate(269.1 279) rotate(-90) scale(1 0.950)" font-size="8.9" font-weight="bold" text-anchor="middle" fill="#000" stroke="#000" stroke-width="0.22">mean fluorescence</text>
<text class="sans" transform="translate(349.5 378.3) scale(1 1.050)" font-size="8.7" font-weight="bold" text-anchor="middle" fill="#000" stroke="#000" stroke-width="0.22">Time (sec)</text>
<line x1="389.3" y1="187.5" x2="402.3" y2="187.5" stroke="#000" stroke-width="1.7"/>
<line x1="389.3" y1="197.9" x2="402.3" y2="197.9" stroke="#333" stroke-width="1.1"/>
<line x1="389.3" y1="209.6" x2="402.3" y2="209.6" stroke="#000" stroke-width="1.1" stroke-dasharray="1.4,1.6"/>
<text class="sans" transform="translate(404.8 190.4)" font-size="7.7" text-anchor="start" fill="#000" stroke="#000" stroke-width="0.15">0.5 mM PAR4p</text>
<text class="sans" transform="translate(404.8 201.1)" font-size="7.7" text-anchor="start" fill="#000" stroke="#000" stroke-width="0.15">0.25 mM PAR4p</text>
<text class="sans" transform="translate(404.8 212.3)" font-size="7.7" text-anchor="start" fill="#000" stroke="#000" stroke-width="0.15">0.125 mM PAR4p</text>
<line x1="438.8" y1="244.4" x2="438.8" y2="339.2" stroke="#000" stroke-width="1.4"/>
<line x1="436.4" y1="338.6" x2="438.8" y2="338.6" stroke="#000" stroke-width="1.1"/>
<text class="sans" transform="translate(436.6 341.05) scale(1 1.150)" font-size="6.2" font-weight="bold" text-anchor="end" fill="#000" stroke="#000" stroke-width="0.22">0</text>
<line x1="436.4" y1="320.7" x2="438.8" y2="320.7" stroke="#000" stroke-width="1.1"/>
<text class="sans" transform="translate(436.6 323.15) scale(1 1.150)" font-size="6.2" font-weight="bold" text-anchor="end" fill="#000" stroke="#000" stroke-width="0.22">100</text>
<line x1="436.4" y1="302.8" x2="438.8" y2="302.8" stroke="#000" stroke-width="1.1"/>
<text class="sans" transform="translate(436.6 305.25) scale(1 1.150)" font-size="6.2" font-weight="bold" text-anchor="end" fill="#000" stroke="#000" stroke-width="0.22">200</text>
<line x1="436.4" y1="284.9" x2="438.8" y2="284.9" stroke="#000" stroke-width="1.1"/>
<text class="sans" transform="translate(436.6 287.35) scale(1 1.150)" font-size="6.2" font-weight="bold" text-anchor="end" fill="#000" stroke="#000" stroke-width="0.22">300</text>
<line x1="436.4" y1="267" x2="438.8" y2="267" stroke="#000" stroke-width="1.1"/>
<text class="sans" transform="translate(436.6 269.45) scale(1 1.150)" font-size="6.2" font-weight="bold" text-anchor="end" fill="#000" stroke="#000" stroke-width="0.22">400</text>
<line x1="436.4" y1="249.1" x2="438.8" y2="249.1" stroke="#000" stroke-width="1.1"/>
<text class="sans" transform="translate(436.6 251.55) scale(1 1.150)" font-size="6.2" font-weight="bold" text-anchor="end" fill="#000" stroke="#000" stroke-width="0.22">500</text>
<line x1="438.2" y1="338.6" x2="517.5" y2="338.6" stroke="#000" stroke-width="1.4"/>
<text class="sans" transform="translate(421 290) rotate(-90) scale(1 0.950)" font-size="8.4" font-weight="bold" text-anchor="middle" fill="#000" stroke="#000" stroke-width="0.22">mean fluorescence (Fluo-3)</text>
<rect x="447.3" y="318.37" width="6.6" height="20.23" fill="#000" stroke="none" stroke-width="1"/>
<rect x="455.2" y="319.41" width="6" height="19.19" fill="#787878" stroke="#111" stroke-width="1"/>
<line x1="476.2" y1="317.66" x2="476.2" y2="316.94" stroke="#000" stroke-width="1.1"/>
<line x1="473.9" y1="316.94" x2="478.5" y2="316.94" stroke="#000" stroke-width="1.3"/>
<rect x="465.5" y="318.19" width="6.6" height="20.41" fill="#000" stroke="none" stroke-width="1"/>
<rect x="473.4" y="318.16" width="6" height="20.44" fill="#787878" stroke="#111" stroke-width="1"/>
<line x1="487.3" y1="279.89" x2="487.3" y2="275.06" stroke="#000" stroke-width="1.1"/>
<line x1="485" y1="275.06" x2="489.6" y2="275.06" stroke="#000" stroke-width="1.3"/>
<line x1="494.7" y1="279.17" x2="494.7" y2="272.91" stroke="#000" stroke-width="1.1"/>
<line x1="492.4" y1="272.91" x2="497" y2="272.91" stroke="#000" stroke-width="1.3"/>
<rect x="484" y="279.89" width="6.6" height="58.71" fill="#000" stroke="none" stroke-width="1"/>
<rect x="491.9" y="279.67" width="6" height="58.93" fill="#787878" stroke="#111" stroke-width="1"/>
<line x1="505.6" y1="257.51" x2="505.6" y2="255.19" stroke="#000" stroke-width="1.1"/>
<line x1="503.3" y1="255.19" x2="507.9" y2="255.19" stroke="#000" stroke-width="1.3"/>
<line x1="513" y1="258.77" x2="513" y2="254.29" stroke="#000" stroke-width="1.1"/>
<line x1="510.7" y1="254.29" x2="515.3" y2="254.29" stroke="#000" stroke-width="1.3"/>
<rect x="502.3" y="257.51" width="6.6" height="81.09" fill="#000" stroke="none" stroke-width="1"/>
<rect x="510.2" y="259.27" width="6" height="79.33" fill="#787878" stroke="#111" stroke-width="1"/>
<text class="sans" transform="translate(452 347.2) rotate(45)" font-size="8.2" font-weight="bold" text-anchor="start" fill="#000" stroke="#000" stroke-width="0.22">baseline</text>
<text class="sans" transform="translate(469 345.8) rotate(45)" font-size="8.2" font-weight="bold" text-anchor="start" fill="#000" stroke="#000" stroke-width="0.22">0.125</text>
<text class="sans" transform="translate(489 345.8) rotate(45)" font-size="8.2" font-weight="bold" text-anchor="start" fill="#000" stroke="#000" stroke-width="0.22">0. 25</text>
<text class="sans" transform="translate(506 345.8) rotate(45)" font-size="8.2" font-weight="bold" text-anchor="start" fill="#000" stroke="#000" stroke-width="0.22">0. 5</text>
</svg>
</body></html>
